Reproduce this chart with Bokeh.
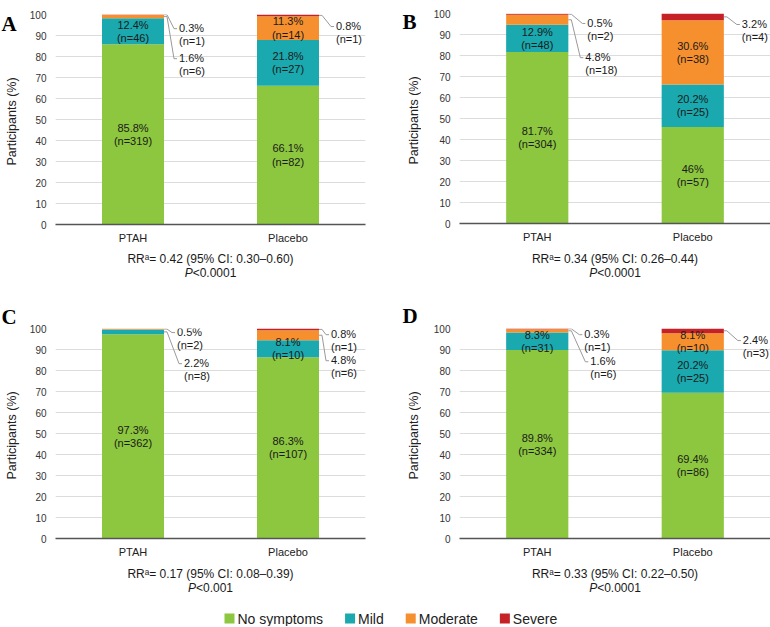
import math
from bokeh.plotting import figure
from bokeh.models import ColumnDataSource, FactorRange, Range1d, FixedTicker
from bokeh.layouts import column, row
from bokeh.core.properties import value
from bokeh.embed import file_html
from bokeh.resources import INLINE

# ---------------- data ----------------
categories = ["PTAH", "Placebo"]
severity = ["No symptoms", "Mild", "Moderate", "Severe"]
y_ticks = [0, 10, 20, 30, 40, 50, 60, 70, 80, 90, 100]

a_ptah_pct = [85.8, 12.4, 1.6, 0.3]
a_ptah_n = [319, 46, 6, 1]
a_placebo_pct = [66.1, 21.8, 11.3, 0.8]
a_placebo_n = [82, 27, 14, 1]

b_ptah_pct = [81.7, 12.9, 4.8, 0.5]
b_ptah_n = [304, 48, 18, 2]
b_placebo_pct = [46, 20.2, 30.6, 3.2]
b_placebo_n = [57, 25, 38, 4]

c_ptah_pct = [97.3, 2.2, 0.5, 0.0]
c_ptah_n = [362, 8, 2, 0]
c_placebo_pct = [86.3, 8.1, 4.8, 0.8]
c_placebo_n = [107, 10, 6, 1]

d_ptah_pct = [89.8, 8.3, 1.6, 0.3]
d_ptah_n = [334, 31, 6, 1]
d_placebo_pct = [69.4, 20.2, 8.1, 2.4]
d_placebo_n = [86, 25, 10, 3]

rr_texts = ["RR\u1d43= 0.42 (95% CI: 0.30\u20130.60)",
            "RR\u1d43= 0.34 (95% CI: 0.26\u20130.44)",
            "RR\u1d43= 0.17 (95% CI: 0.08\u20130.39)",
            "RR\u1d43= 0.33 (95% CI: 0.22\u20130.50)"]
p_values = ["<0.0001", "<0.0001", "<0.001", "<0.0001"]
panel_letters = ["A", "B", "C", "D"]
y_title = "Participants (%)"

# ---------------- styles / layout ----------------
colors = ["#8dc63f", "#19a9ae", "#f6902f", "#c62127"]
FONT = "Liberation Sans"
FRAME_H = 210
AXIS_B = 25
BAR_W = 0.4
INSIDE_MIN = 8.0

# callouts: (category index, severity index, block centre y, x offset px from bar edge)
callout_layout = {
    "A": [(0, 3, 90.4, 15), (0, 2, 76.1, 15), (1, 3, 91.4, 17)],
    "B": [(0, 3, 92.4, 19), (0, 2, 76.1, 17), (1, 3, 91.9, 18)],
    "C": [(0, 2, 95.2, 13), (0, 1, 80.4, 20), (1, 3, 94.2, 12), (1, 2, 81.8, 12)],
    "D": [(0, 3, 94.2, 16), (0, 2, 81.3, 22), (1, 3, 91.4, 19)],
}

geom = {
    "A": dict(fw=310, side=22, bl=33, br=20, bt=14, ht=300, lx=1, ly=23, tx=11, rr_y=9, p_y=23),
    "B": dict(fw=311, side=36, bl=38, br=0, bt=13, ht=300, lx=17, ly=21, tx=28, rr_y=10, p_y=24),
    "C": dict(fw=310, side=22, bl=33, br=20, bt=28, ht=298, lx=1, ly=16.5, tx=11, rr_y=10, p_y=24),
    "D": dict(fw=311, side=36, bl=38, br=0, bt=28, ht=298, lx=17, ly=15, tx=28, rr_y=10, p_y=24),
}

ARIAL_W = {"P": .667, "<": .584, "0": .556, "1": .556, ".": .278, " ": .278,
           "N": .722, "o": .556, "s": .5, "y": .5, "m": .833, "p": .556,
           "t": .278, "M": .833, "i": .222, "l": .222, "d": .556, "e": .556,
           "r": .333, "a": .556, "S": .667, "v": .5}


def text_w(s, size):
    return sum(ARIAL_W.get(ch, .556) for ch in s) * size


def blank(width, height, xr, yr):
    f = figure(width=width, height=height, x_range=xr, y_range=yr,
               x_axis_type=None, y_axis_type=None, toolbar_location=None,
               tools="", output_backend="svg", min_border=0)
    f.grid.visible = False
    f.outline_line_color = None
    return f


def make_panel(key, pct_lists, n_lists, rr, pval):
    g = geom[key]
    ppu = g["fw"] / 2.0
    pxy = FRAME_H / 100.0
    xr = FactorRange(factors=categories, range_padding=0)
    main_h = g["bt"] + FRAME_H + AXIS_B
    foot_h = g["ht"] - main_h

    p = figure(x_range=xr, y_range=Range1d(0, 100),
               frame_width=g["fw"], frame_height=FRAME_H,
               min_border_left=g["bl"], min_border_right=g["br"],
               min_border_top=g["bt"], min_border_bottom=AXIS_B,
               toolbar_location=None, tools="", output_backend="svg")
    p.outline_line_color = None

    # stacked bars
    for j, sev in enumerate(severity):
        bottoms = [sum(pl[:j]) for pl in pct_lists]
        tops = [sum(pl[:j + 1]) for pl in pct_lists]
        src = ColumnDataSource(dict(x=categories, bottom=bottoms, top=tops))
        p.vbar(x="x", bottom="bottom", top="top", width=BAR_W, source=src,
               fill_color=colors[j], line_color=None)

    # inside labels
    ins = dict(x=[], y=[], t=[])
    for i, (pl, nl) in enumerate(zip(pct_lists, n_lists)):
        for j in range(len(severity)):
            if pl[j] >= INSIDE_MIN:
                ins["x"].append(i + 0.5)
                ins["y"].append(sum(pl[:j]) + pl[j] / 2.0)
                ins["t"].append(f"{pl[j]:g}%\n(n={nl[j]})")
    p.text(x="x", y="y", text="t", source=ColumnDataSource(ins),
           text_align="center", text_baseline="middle",
           text_font=value(FONT), text_font_size="11px",
           text_color="#1a1a1a", text_line_height=1.1)

    # callouts with leader lines
    co = dict(x=[], y=[], t=[], xo=[])
    lxs, lys = [], []
    for (i, j, yc, xoff) in callout_layout[key]:
        pl, nl = pct_lists[i], n_lists[i]
        x_edge = i + 0.5 + BAR_W / 2.0
        co["x"].append(x_edge)
        co["y"].append(yc)
        co["t"].append(f"{pl[j]:g}%\n(n={nl[j]})")
        co["xo"].append(xoff)
        y0 = min(sum(pl[:j]) + pl[j] / 2.0, 99.9)
        y1 = yc + 6.0 / pxy
        lxs.append([x_edge, x_edge + 3 / ppu, x_edge + (xoff - 5) / ppu,
                    x_edge + (xoff - 2) / ppu])
        lys.append([y0, y0, y1, y1])
    p.multi_line(xs=lxs, ys=lys, line_color="#9a9a9a", line_width=1)
    p.text(x="x", y="y", text="t", x_offset="xo", source=ColumnDataSource(co),
           text_align="left", text_baseline="middle",
           text_font=value(FONT), text_font_size="11px",
           text_color="#1a1a1a", text_line_height=1.1)

    # axes
    p.yaxis.ticker = FixedTicker(ticks=y_ticks)
    p.ygrid.ticker = FixedTicker(ticks=y_ticks)
    p.ygrid.grid_line_color = "#dcdcdc"
    p.xgrid.grid_line_color = None
    p.yaxis.axis_line_color = None
    p.yaxis.major_tick_line_color = None
    p.yaxis.minor_tick_line_color = None
    p.yaxis.major_label_standoff = 3
    p.yaxis.major_label_text_font = FONT
    p.yaxis.major_label_text_font_size = "10px"
    p.yaxis.major_label_text_color = "#333333"
    p.xaxis.axis_line_color = "#555555"
    p.xaxis.axis_line_width = 1.5
    p.xaxis.major_tick_line_color = None
    p.xaxis.major_label_standoff = 1
    p.xaxis.major_label_text_font = FONT
    p.xaxis.major_label_text_font_size = "11px"
    p.xaxis.major_label_text_color = "#222222"

    # footer with RR and P value (shares the x range)
    ft = figure(x_range=xr, y_range=Range1d(foot_h, 0),
                frame_width=g["fw"], frame_height=foot_h,
                min_border_left=g["bl"], min_border_right=g["br"],
                min_border_top=0, min_border_bottom=0,
                x_axis_type=None, y_axis_type=None,
                toolbar_location=None, tools="", output_backend="svg")
    ft.grid.visible = False
    ft.outline_line_color = None
    ft.text(x=[1.0], y=[g["rr_y"]], text=[rr], text_align="center",
            text_baseline="middle", text_font=value(FONT),
            text_font_size="12px", text_color="#1a1a1a")
    wP = text_w("P", 12)
    wR = text_w(pval, 12)
    split = -(wP + wR) / 2.0 + wP
    ft.text(x=[1.0], y=[g["p_y"]], text=["P"], x_offset=split,
            text_align="right", text_baseline="middle", text_font=value(FONT),
            text_font_style="italic", text_font_size="12px",
            text_color="#1a1a1a")
    ft.text(x=[1.0], y=[g["p_y"]], text=[pval], x_offset=split,
            text_align="left", text_baseline="middle", text_font=value(FONT),
            text_font_size="12px", text_color="#1a1a1a")

    # side strip with panel letter and y-axis title
    sd = blank(g["side"], g["ht"], Range1d(0, g["side"]), Range1d(g["ht"], 0))
    sd.text(x=[g["lx"]], y=[g["ly"]], text=[key], text_align="left",
            text_baseline="alphabetic", text_font=value("Liberation Serif"),
            text_font_style="bold", text_font_size="21px", text_color="#000000")
    sd.text(x=[g["tx"]], y=[g["bt"] + FRAME_H / 2.0 + 2], text=[y_title],
            angle=math.pi / 2, text_align="center", text_baseline="middle",
            text_font=value(FONT), text_font_size="12.5px",
            text_color="#222222")

    return row(sd, column(p, ft))


pA = make_panel("A", [a_ptah_pct, a_placebo_pct], [a_ptah_n, a_placebo_n], rr_texts[0], p_values[0])
pB = make_panel("B", [b_ptah_pct, b_placebo_pct], [b_ptah_n, b_placebo_n], rr_texts[1], p_values[1])
pC = make_panel("C", [c_ptah_pct, c_placebo_pct], [c_ptah_n, c_placebo_n], rr_texts[2], p_values[2])
pD = make_panel("D", [d_ptah_pct, d_placebo_pct], [d_ptah_n, d_placebo_n], rr_texts[3], p_values[3])

# legend strip
LEG_W, LEG_H = 770, 28
LEG_X0, LEG_Y = 224, 20
lf = blank(LEG_W, LEG_H, Range1d(0, LEG_W), Range1d(LEG_H, 0))
sq = dict(x=[], c=[])
tx = dict(x=[], t=[])
xpos = LEG_X0
for s, c in zip(severity, colors):
    sq["x"].append(xpos + 5)
    sq["c"].append(c)
    tx["x"].append(xpos + 13)
    tx["t"].append(s)
    xpos = xpos + 13 + text_w(s, 14) + 22
lf.rect(x="x", y=LEG_Y, width=10, height=10, width_units="screen",
        height_units="screen", fill_color="c", line_color=None,
        source=ColumnDataSource(sq))
lf.text(x="x", y=LEG_Y, text="t", source=ColumnDataSource(tx),
        text_align="left", text_baseline="middle", text_font=value(FONT),
        text_font_size="14px", text_color="#222222")

layout = column(row(pA, pB), row(pC, pD), lf)
open("out.html", "w").write(file_html(layout, INLINE))
